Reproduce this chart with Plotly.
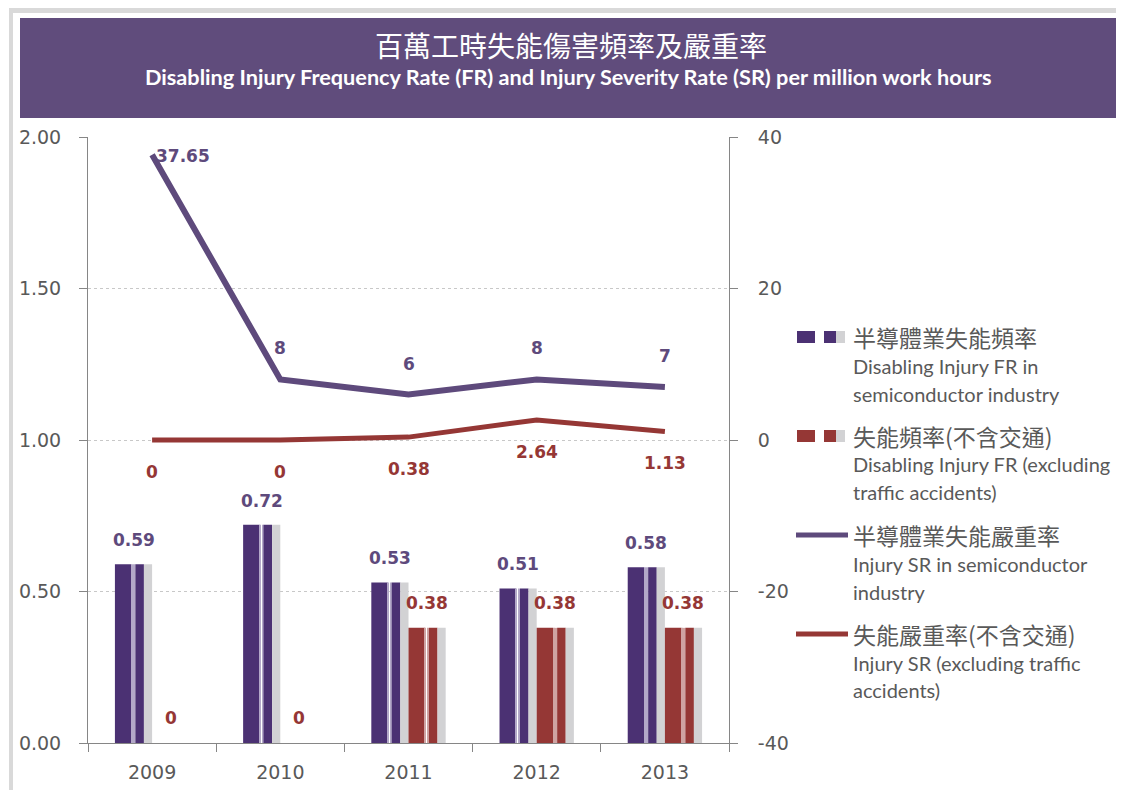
import plotly.graph_objects as go

years = ["2009", "2010", "2011", "2012", "2013"]
fr_semi = [0.59, 0.72, 0.53, 0.51, 0.58]      # 半導體業失能頻率 (left axis)
fr_excl = [0, 0, 0.38, 0.38, 0.38]            # 失能頻率(不含交通) (left axis)
sr_semi = [37.65, 8, 6, 8, 7]                 # 半導體業失能嚴重率 (right axis)
sr_excl = [0, 0, 0.38, 2.64, 1.13]            # 失能嚴重率(不含交通) (right axis)
fr_ticks = [0, 0.5, 1.0, 1.5, 2.0]
sr_ticks = [-40, -20, 0, 20, 40]

PURPLE = "#4B3173"
PURPLE_LINE = "#5E4A7C"
LAV = "#B3A8C8"
RED = "#953735"
RED_LIGHT = "#CFA3A2"
GRAY = "#D2D2D4"
TEXT = "#595959"
BAND = "#604C7C"

OFF = 8  # page body margin
W, H = 1124 - OFF, 790 - OFF
L, R, T, B = 88, 729, 137, 743   # plot area in screenshot pixels
BAR_W = 0.29


def px(x):
    return (x - L) / (R - L)


def py(y):
    return (B - y) / (B - T)


def segs(dark, light):
    return [(0.0, 0.44, dark), (0.44, 0.47, light), (0.51, 0.55, light),
            (0.55, 0.78, dark), (0.78, 1.0, GRAY)]


fig = go.Figure()

for vals, start, dark, light in [(fr_semi, -BAR_W, PURPLE, LAV), (fr_excl, 0.0, RED, RED_LIGHT)]:
    for s, e, c in segs(dark, light):
        fig.add_trace(go.Bar(
            x=years, y=vals, width=BAR_W * (e - s), offset=start + BAR_W * s,
            marker=dict(color=c, line=dict(width=0)), hoverinfo="skip",
        ))

fig.add_trace(go.Scatter(x=years, y=sr_semi, yaxis="y2", mode="lines",
                         line=dict(color=PURPLE_LINE, width=6), hoverinfo="skip"))
fig.add_trace(go.Scatter(x=years, y=sr_excl, yaxis="y2", mode="lines",
                         line=dict(color=RED, width=5), hoverinfo="skip"))

lab_font = dict(family="DejaVu Sans", size=17, color=PURPLE_LINE, weight="bold")
red_font = dict(family="DejaVu Sans", size=17, color=RED, weight="bold")
ann = []
# category axis: annotations use the category index
for i, v in enumerate(fr_semi):
    ann.append(dict(x=i, y=v, xref="x", yref="y", text=f"{v:g}", showarrow=False,
                    xanchor="center", yanchor="middle", xshift=-18.5, yshift=24, font=lab_font))
for i, v in enumerate(fr_excl):
    ann.append(dict(x=i, y=v, xref="x", yref="y", text=f"{v:g}", showarrow=False,
                    xanchor="center", yanchor="middle", xshift=18.5, yshift=25, font=red_font))
for i, v in enumerate(sr_semi):
    if i == 0:
        ann.append(dict(x=i, y=v, xref="x", yref="y2", text=f"{v:g}", showarrow=False,
                        xanchor="left", yanchor="middle", xshift=2, yshift=-1, font=lab_font))
    else:
        ann.append(dict(x=i, y=v, xref="x", yref="y2", text=f"{v:g}", showarrow=False,
                        xanchor="center", yanchor="middle", yshift=31, font=lab_font))
for i, v in enumerate(sr_excl):
    ann.append(dict(x=i, y=v, xref="x", yref="y2", text=f"{v:g}", showarrow=False,
                    xanchor="center", yanchor="middle", yshift=-32, font=red_font))

# title band
ann.append(dict(x=px(571), y=py(45), xref="paper", yref="paper", showarrow=False,
                xanchor="center", yanchor="middle",
                text="百萬工時失能傷害頻率及嚴重率",
                font=dict(family="Noto Sans CJK TC", size=28, color="white")))
ann.append(dict(x=px(568), y=py(77), xref="paper", yref="paper", showarrow=False,
                xanchor="center", yanchor="middle",
                text="Disabling Injury Frequency Rate (FR) and Injury Severity Rate (SR) per million work hours",
                font=dict(family="Lato", size=21.7, color="white", weight="bold")))

shapes = [
    dict(type="rect", xref="paper", yref="paper", x0=px(9), x1=px(1130), y0=py(8), y1=py(13),
         fillcolor="#D9D9D9", line=dict(width=0), layer="below"),
    dict(type="rect", xref="paper", yref="paper", x0=px(9), x1=px(13), y0=py(8), y1=py(800),
         fillcolor="#D9D9D9", line=dict(width=0), layer="below"),
    dict(type="rect", xref="paper", yref="paper", x0=px(20), x1=px(1117), y0=py(18), y1=py(118),
         fillcolor=BAND, line=dict(width=0), layer="below"),
]

# legend
legend_items = [
    ("bar", PURPLE, ["半導體業失能頻率", "Disabling Injury FR in", "semiconductor industry"], [337, 366, 394]),
    ("bar", RED, ["失能頻率(不含交通)", "Disabling Injury FR (excluding", "traffic accidents)"], [436, 464, 492]),
    ("line", PURPLE_LINE, ["半導體業失能嚴重率", "Injury SR in semiconductor", "industry"], [535, 564, 592]),
    ("line", RED, ["失能嚴重率(不含交通)", "Injury SR (excluding traffic", "accidents)"], [634, 663, 690]),
]
for kind, color, lines, ys in legend_items:
    yc = ys[0]
    if kind == "bar":
        for x0, x1, c in [(797, 815, color), (824, 836, color), (836, 845, GRAY)]:
            shapes.append(dict(type="rect", xref="paper", yref="paper", x0=px(x0), x1=px(x1),
                               y0=py(yc - 6), y1=py(yc + 6), fillcolor=c, line=dict(width=0)))
    else:
        shapes.append(dict(type="line", xref="paper", yref="paper", x0=px(796), x1=px(848),
                           y0=py(yc), y1=py(yc), line=dict(color=color, width=5)))
    for j, (t, yy) in enumerate(zip(lines, ys)):
        f = dict(family="Noto Sans CJK TC", size=23, color=TEXT) if j == 0 else \
            dict(family="Lato", size=20, color=TEXT)
        ann.append(dict(x=px(851), y=py(yy), xref="paper", yref="paper", text=t,
                        showarrow=False, xanchor="left", yanchor="middle", font=f))

tick_font = dict(family="DejaVu Sans", size=19, color=TEXT)
fig.update_layout(
    width=W, height=H,
    margin=dict(l=L - OFF, r=1124 - R, t=T - OFF, b=790 - B, pad=0, autoexpand=False),
    paper_bgcolor="white", plot_bgcolor="white",
    barmode="overlay", showlegend=False,
    xaxis=dict(type="category", range=[-0.5, len(years) - 0.5], showline=True,
               linecolor="#868686", linewidth=1, automargin=False,
               ticks="outside", tickson="boundaries", ticklen=8, tickcolor="#868686",
               tickfont=tick_font, showgrid=False, ticklabelstandoff=12, tickangle=0),
    yaxis=dict(range=[0, 2], tickvals=fr_ticks, ticktext=[f"{v:.2f}" for v in fr_ticks],
               showline=True, linecolor="#868686", automargin=False,
               ticks="outside", ticklen=8, tickcolor="#868686", tickfont=tick_font,
               showgrid=True, gridcolor="#C8C8C8", griddash="dot", zeroline=False,
               ticklabelstandoff=14),
    yaxis2=dict(range=[-40, 40], tickvals=sr_ticks, ticktext=[str(v) for v in sr_ticks],
                overlaying="y", side="right", showline=True, automargin=False,
                linecolor="#868686", ticks="outside", ticklen=8, tickcolor="#868686",
                tickfont=tick_font, showgrid=False, zeroline=False, ticklabelstandoff=16),
    annotations=ann, shapes=shapes,
)

fig.write_html("out.html")
